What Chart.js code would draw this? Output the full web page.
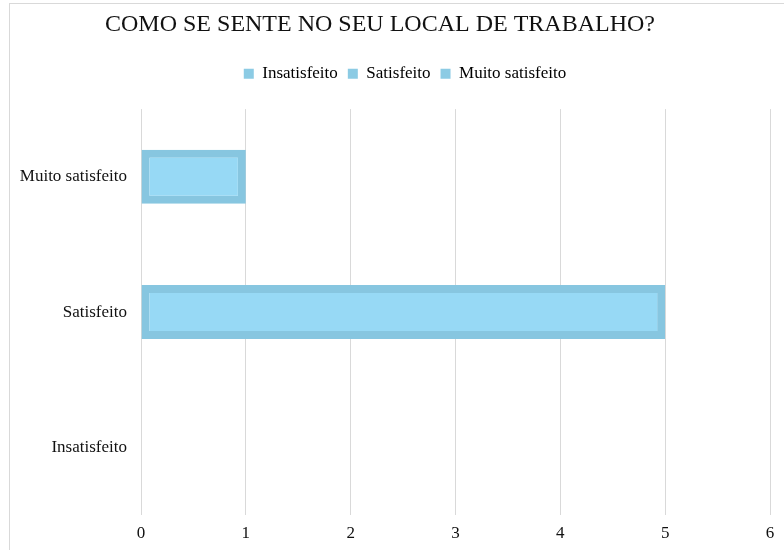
<!DOCTYPE html>
<html>
<head>
<meta charset="utf-8">
<script src="https://cdn.jsdelivr.net/npm/chart.js@4"></script>
<style>
  html, body { margin: 0; padding: 0; background: #fff; overflow: hidden; }
  #frame { position: absolute; left: 9px; top: 3px; width: 900px; height: 700px; border: 1px solid #d9d9d9; }
  #chart { position: absolute; left: 0; top: 0; }
</style>
</head>
<body>
<div id="frame"></div>
<canvas id="chart" width="784" height="550"></canvas>
<script>
// dados do gráfico
const categorias = ['Insatisfeito', 'Satisfeito', 'Muito satisfeito'];
const respostas = [0, 5, 1];
const escalaMin = 0;
const escalaMax = 6;
const escalaPasso = 1;

const fonte = "'Liberation Serif', 'Times New Roman', serif";
const corTexto = '#111';
const corGrade = '#d9d9d9';
const corBarra = '#97d9f5';
const corBorda = '#87c6e0';

// pequenos ajustes de posição do título e da legenda
const ajuste = {
    id: 'ajuste',
    afterLayout(chart) {
        if (chart.titleBlock) {
            chart.titleBlock.left -= 15;
            chart.titleBlock.right -= 15;
        }
        if (chart.legend) {
            chart.legend.left += 10;
            chart.legend.right += 10;
        }
    }
};

new Chart(document.getElementById('chart'), {
    type: 'bar',
    data: {
        labels: categorias,
        datasets: [{
            label: 'Respostas',
            data: respostas,
            backgroundColor: corBarra,
            borderColor: corBorda,
            borderWidth: 8,
            borderSkipped: false,
            barPercentage: 0.4,
            categoryPercentage: 1
        }]
    },
    options: {
        indexAxis: 'y',
        responsive: false,
        animation: false,
        devicePixelRatio: 1,
        layout: { padding: { left: 20, right: 14, top: 0, bottom: 0 } },
        scales: {
            x: {
                min: escalaMin,
                max: escalaMax,
                ticks: {
                    stepSize: escalaPasso,
                    padding: 8,
                    color: corTexto,
                    font: { family: fonte, size: 17 }
                },
                grid: { color: corGrade, drawTicks: false },
                border: { display: false },
                afterFit(scale) { scale.height = 35; }
            },
            y: {
                reverse: true,
                ticks: {
                    padding: 14,
                    color: corTexto,
                    font: { family: fonte, size: 17 }
                },
                grid: { display: false, drawTicks: false },
                border: { display: false },
                afterFit(scale) { scale.width = 121; }
            }
        },
        plugins: {
            title: {
                display: true,
                text: 'COMO SE SENTE NO SEU LOCAL DE TRABALHO?',
                color: corTexto,
                font: { family: fonte, size: 24, weight: 'normal' },
                padding: { top: 10, bottom: 16.5 }
            },
            subtitle: {
                display: true,
                text: '',
                font: { size: 14 },
                padding: 0
            },
            legend: {
                display: true,
                position: 'top',
                weight: 1800,
                labels: {
                    boxWidth: 10,
                    boxHeight: 10,
                    padding: 10,
                    color: corTexto,
                    font: { family: fonte, size: 17 },
                    generateLabels() {
                        return categorias.map(c => ({
                            text: c,
                            fillStyle: '#8ccbe4',
                            strokeStyle: '#8ccbe4',
                            lineWidth: 0,
                            hidden: false
                        }));
                    }
                }
            },
            tooltip: { enabled: false }
        }
    },
    plugins: [ajuste]
});
</script>
</body>
</html>
